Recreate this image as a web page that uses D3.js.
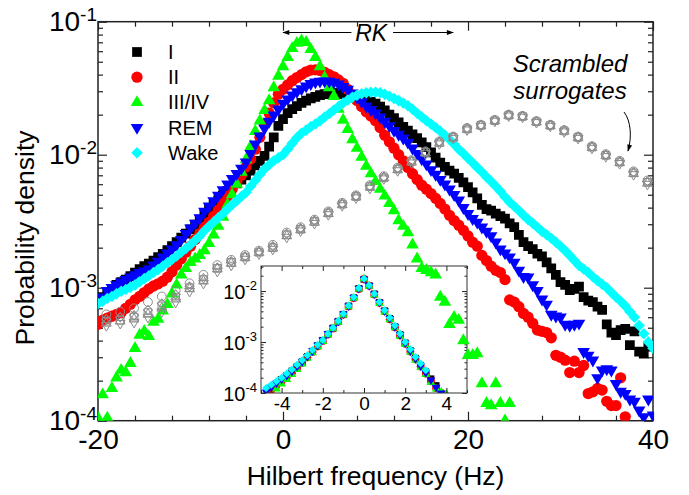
<!DOCTYPE html>
<html>
<head>
<meta charset="utf-8">
<script src="https://cdn.jsdelivr.net/npm/d3@7"></script>
<style>
  body { margin: 0; background: #fff; }
  svg text { font-family: "Liberation Sans", Arial, sans-serif; fill: #000; }
</style>
</head>
<body>
<script>

// ---------- data ----------
var binHz = [-20,-19.5,-19,-18.5,-18,-17.5,-17,-16.5,-16,-15.5,-15,-14.5,-14,-13.5,-13,-12.5,-12,-11.5,-11,-10.5,
  -10,-9.5,-9,-8.5,-8,-7.5,-7,-6.5,-6,-5.5,-5,-4.5,-4,-3.5,-3,-2.5,-2,-1.5,-1,-0.5,
  0,0.5,1,1.5,2,2.5,3,3.5,4,4.5,5,5.5,6,6.5,7,7.5,8,8.5,9,9.5,
  10,10.5,11,11.5,12,12.5,13,13.5,14,14.5,15,15.5,16,16.5,17,17.5,18,18.5,19,19.5,
  20,20.5,21,21.5,22,22.5,23,23.5,24,24.5,25,25.5,26,26.5,27,27.5,28,28.5,29,29.5,
  30,30.5,31,31.5,32,32.5,33,33.5,34,34.5,35,35.5,36,36.5,37,37.5,38,38.5,39,39.5,40];

var stageI = [8.0e-4,8.5e-4,9.0e-4,9.8e-4,1.05e-3,1.1e-3,1.15e-3,1.22e-3,1.3e-3,1.38e-3,
  1.45e-3,1.52e-3,1.6e-3,1.7e-3,1.8e-3,1.92e-3,2.05e-3,2.2e-3,2.38e-3,2.55e-3,
  2.75e-3,2.98e-3,3.25e-3,3.55e-3,3.85e-3,4.2e-3,4.55e-3,4.95e-3,5.35e-3,5.75e-3,
  6.1e-3,6.5e-3,7.0e-3,7.6e-3,8.3e-3,9.0e-3,9.8e-3,1.15e-2,1.35e-2,1.65e-2,
  1.85e-2,2.05e-2,2.2e-2,2.32e-2,2.45e-2,2.55e-2,2.65e-2,2.72e-2,2.8e-2,2.85e-2,
  2.88e-2,2.9e-2,2.9e-2,2.85e-2,2.75e-2,2.7e-2,2.65e-2,2.6e-2,2.55e-2,2.5e-2,
  2.42e-2,2.3e-2,2.15e-2,2.0e-2,1.88e-2,1.75e-2,1.62e-2,1.52e-2,1.42e-2,1.33e-2,
  1.24e-2,1.14e-2,1.04e-2,9.5e-3,8.7e-3,8.1e-3,7.6e-3,7.2e-3,6.7e-3,6.2e-3,
  5.7e-3,5.2e-3,4.7e-3,4.2e-3,3.9e-3,3.8e-3,3.6e-3,3.45e-3,3.3e-3,3.05e-3,
  2.85e-3,2.5e-3,2.2e-3,2.05e-3,1.95e-3,1.8e-3,1.72e-3,1.55e-3,1.4e-3,1.25e-3,
  1.1e-3,1.05e-3,9.6e-4,9.8e-4,1.02e-3,8.5e-4,8.0e-4,7.8e-4,7.2e-4,6.8e-4,
  5.3e-4,4.6e-4,4.4e-4,4.8e-4,4.9e-4,3.7e-4,4.7e-4,3.3e-4,3.2e-4,3.6e-4,3.7e-4];

var stageII = [5.3e-4,5.7e-4,5.9e-4,6.1e-4,6.3e-4,6.5e-4,7.0e-4,7.5e-4,8.1e-4,8.6e-4,
  9.2e-4,9.8e-4,1.03e-3,1.07e-3,1.12e-3,1.2e-3,1.32e-3,1.48e-3,1.65e-3,1.85e-3,
  2.05e-3,2.3e-3,2.55e-3,2.85e-3,3.1e-3,3.45e-3,3.85e-3,4.3e-3,4.9e-3,5.5e-3,
  6.2e-3,7.0e-3,8.1e-3,9.3e-3,1.1e-2,1.35e-2,1.7e-2,2.05e-2,2.45e-2,2.85e-2,
  3.1e-2,3.35e-2,3.6e-2,3.8e-2,4.0e-2,4.2e-2,4.33e-2,4.35e-2,4.3e-2,4.15e-2,
  4.0e-2,3.85e-2,3.65e-2,3.44e-2,3.1e-2,2.8e-2,2.55e-2,2.3e-2,2.1e-2,1.95e-2,
  1.8e-2,1.6e-2,1.4e-2,1.25e-2,1.12e-2,1.0e-2,9.0e-3,8.0e-3,7.2e-3,6.5e-3,
  5.9e-3,5.5e-3,5.1e-3,4.7e-3,4.3e-3,3.9e-3,3.5e-3,3.2e-3,2.95e-3,2.7e-3,
  2.45e-3,2.2e-3,2.05e-3,1.75e-3,1.6e-3,1.45e-3,1.35e-3,1.3e-3,1.15e-3,8.1e-4,
  7.8e-4,7.2e-4,6.4e-4,6.0e-4,5.4e-4,4.8e-4,4.7e-4,4.6e-4,4.2e-4,3.1e-4,
  3.0e-4,2.85e-4,2.3e-4,2.8e-4,2.3e-4,2.6e-4,1.6e-4,1.65e-4,1.75e-4,1.7e-4,
  1.4e-4,1.3e-4,1.3e-4,2.1e-4,1.07e-4,null,null,null,null,null,null];

var stageIIIIV = [1.05e-4,1.57e-4,1.05e-4,1.75e-4,2.1e-4,2.4e-4,2.3e-4,2.7e-4,3.5e-4,4.4e-4,
  4.7e-4,4.3e-4,5.5e-4,5.8e-4,6.7e-4,7.5e-4,9.0e-4,1.05e-3,1.25e-3,1.4e-3,
  1.55e-3,1.65e-3,1.75e-3,1.9e-3,2.15e-3,2.5e-3,2.9e-3,3.4e-3,4.2e-3,5.0e-3,
  6.0e-3,7.4e-3,9.2e-3,1.15e-2,1.5e-2,1.8e-2,2.15e-2,2.55e-2,3.2e-2,3.9e-2,
  4.6e-2,5.4e-2,6.3e-2,6.9e-2,7.2e-2,7.0e-2,6.2e-2,5.4e-2,4.6e-2,3.8e-2,
  3.2e-2,2.75e-2,2.2e-2,1.82e-2,1.55e-2,1.3e-2,1.12e-2,9.6e-3,8.2e-3,7.2e-3,
  6.3e-3,5.5e-3,4.9e-3,4.3e-3,3.8e-3,3.2e-3,2.9e-3,2.6e-3,2.1e-3,1.65e-3,
  1.4e-3,1.35e-3,1.3e-3,1.25e-3,8.5e-4,7.8e-4,5.3e-4,6.0e-4,5.7e-4,4.0e-4,
  3.1e-4,3.1e-4,3.2e-4,1.9e-4,1.35e-4,1.3e-4,1.9e-4,1.35e-4,1.0e-4,1.35e-4,
  null,null,null,null,null,null,null,null,null,null,
  null,null,null,null,null,null,null,null,null,null,
  null,null,null,null,null,null,null,null,null,null,null];

var stageREM = [7.8e-4,8.5e-4,9.5e-4,1.0e-3,1.05e-3,1.1e-3,1.15e-3,1.2e-3,1.25e-3,1.3e-3,
  1.33e-3,1.38e-3,1.48e-3,1.58e-3,1.7e-3,1.82e-3,1.95e-3,2.1e-3,2.3e-3,2.55e-3,
  2.8e-3,3.05e-3,3.35e-3,3.75e-3,4.1e-3,4.5e-3,4.95e-3,5.45e-3,6.0e-3,6.6e-3,
  7.2e-3,7.9e-3,8.8e-3,1.02e-2,1.2e-2,1.38e-2,1.58e-2,1.78e-2,1.98e-2,2.2e-2,
  2.43e-2,2.62e-2,2.8e-2,2.97e-2,3.12e-2,3.28e-2,3.42e-2,3.52e-2,3.56e-2,3.58e-2,
  3.56e-2,3.5e-2,3.4e-2,3.25e-2,3.1e-2,2.9e-2,2.7e-2,2.5e-2,2.32e-2,2.18e-2,
  2.05e-2,1.92e-2,1.78e-2,1.65e-2,1.52e-2,1.42e-2,1.33e-2,1.24e-2,1.12e-2,1.02e-2,
  9.3e-3,8.5e-3,7.7e-3,7.1e-3,6.5e-3,6.0e-3,5.5e-3,5.0e-3,4.55e-3,4.0e-3,
  3.6e-3,3.3e-3,3.1e-3,2.85e-3,2.65e-3,2.45e-3,2.2e-3,1.95e-3,1.82e-3,1.7e-3,
  1.55e-3,1.35e-3,1.21e-3,1.2e-3,1.05e-3,9.5e-4,8.2e-4,7.5e-4,6.3e-4,6.1e-4,
  6.0e-4,5.3e-4,5.2e-4,5.3e-4,5.4e-4,3.3e-4,3.1e-4,2.85e-4,2.1e-4,2.4e-4,
  2.45e-4,2.4e-4,1.9e-4,1.66e-4,1.6e-4,1.45e-4,1.4e-4,1.2e-4,1.07e-4,1.45e-4,1.1e-4];

var stageWake = [7.6e-4,7.9e-4,8.3e-4,8.6e-4,9.0e-4,9.4e-4,9.7e-4,1.01e-3,1.05e-3,1.11e-3,
  1.17e-3,1.23e-3,1.3e-3,1.37e-3,1.45e-3,1.54e-3,1.63e-3,1.73e-3,1.85e-3,1.97e-3,
  2.1e-3,2.27e-3,2.45e-3,2.68e-3,2.9e-3,3.12e-3,3.35e-3,3.6e-3,3.9e-3,4.2e-3,
  4.5e-3,4.85e-3,5.2e-3,5.8e-3,6.4e-3,7.1e-3,7.8e-3,8.4e-3,9.0e-3,9.5e-3,
  1.0e-2,1.1e-2,1.22e-2,1.34e-2,1.45e-2,1.53e-2,1.62e-2,1.7e-2,1.8e-2,1.92e-2,
  2.03e-2,2.17e-2,2.3e-2,2.45e-2,2.58e-2,2.7e-2,2.8e-2,2.87e-2,2.92e-2,2.95e-2,
  2.95e-2,2.92e-2,2.85e-2,2.75e-2,2.65e-2,2.55e-2,2.45e-2,2.33e-2,2.2e-2,2.05e-2,
  1.92e-2,1.8e-2,1.7e-2,1.6e-2,1.5e-2,1.4e-2,1.3e-2,1.2e-2,1.1e-2,1.02e-2,
  9.4e-3,8.7e-3,8.0e-3,7.4e-3,6.8e-3,6.3e-3,5.8e-3,5.3e-3,4.8e-3,4.4e-3,
  4.1e-3,3.8e-3,3.5e-3,3.25e-3,3.05e-3,2.85e-3,2.65e-3,2.5e-3,2.35e-3,2.2e-3,
  2.05e-3,1.9e-3,1.75e-3,1.6e-3,1.47e-3,1.38e-3,1.3e-3,1.21e-3,1.13e-3,1.06e-3,
  1.0e-3,9.2e-4,8.5e-4,7.9e-4,7.3e-4,6.6e-4,6.0e-4,5.2e-4,4.5e-4,3.9e-4,3.5e-4];

// scrambled surrogates (five open-symbol sets, coarser bins)
var surrHz = [-19.1,-17.6,-16.1,-14.6,-13.1,-11.6,-10.1,-8.6,-7.1,-5.6,-4.1,-2.6,-1.1,0.4,1.9,3.4,4.9,6.4,7.9,9.4,
  10.9,12.4,13.9,15.4,16.9,18.4,19.9,21.4,22.9,24.4,25.9,27.4,28.9,30.4,31.9,33.4,34.9,36.4,37.9,39.4];
var surrSquare = [5.6e-4,5.7e-4,6.0e-4,6.5e-4,7.3e-4,8.5e-4,1.0e-3,1.15e-3,1.4e-3,1.55e-3,1.7e-3,1.85e-3,2.0e-3,2.5e-3,2.75e-3,3.15e-3,3.65e-3,4.25e-3,4.85e-3,5.75e-3,
  6.7e-3,7.8e-3,8.9e-3,1.04e-2,1.23e-2,1.35e-2,1.56e-2,1.66e-2,1.8e-2,1.98e-2,1.94e-2,1.77e-2,1.66e-2,1.51e-2,1.35e-2,1.14e-2,9.9e-3,8.8e-3,7.3e-3,6.2e-3];
var surrCircle = [6.3e-4,6.6e-4,7.0e-4,7.8e-4,8.6e-4,9.5e-4,1.08e-3,1.25e-3,1.48e-3,1.62e-3,1.76e-3,1.9e-3,2.1e-3,2.6e-3,2.85e-3,3.25e-3,3.75e-3,4.35e-3,4.95e-3,5.9e-3,
  6.9e-3,8.0e-3,9.1e-3,1.06e-2,1.26e-2,1.37e-2,1.59e-2,1.68e-2,1.83e-2,2.0e-2,1.96e-2,1.79e-2,1.68e-2,1.53e-2,1.37e-2,1.16e-2,1.01e-2,9.0e-3,7.5e-3,6.4e-3];
var surrUp = [5.4e-4,5.6e-4,5.8e-4,6.3e-4,7.0e-4,8.2e-4,9.8e-4,1.12e-3,1.38e-3,1.52e-3,1.68e-3,1.83e-3,1.98e-3,2.45e-3,2.72e-3,3.1e-3,3.6e-3,4.2e-3,4.8e-3,5.7e-3,
  6.7e-3,7.7e-3,8.8e-3,1.03e-2,1.22e-2,1.34e-2,1.55e-2,1.65e-2,1.8e-2,1.97e-2,1.93e-2,1.76e-2,1.65e-2,1.5e-2,1.34e-2,1.13e-2,9.8e-3,8.7e-3,7.2e-3,6.1e-3];
var surrDown = [5.2e-4,5.4e-4,5.5e-4,6.0e-4,6.6e-4,7.8e-4,9.4e-4,1.08e-3,1.33e-3,1.48e-3,1.64e-3,1.8e-3,1.95e-3,2.4e-3,2.68e-3,3.05e-3,3.55e-3,4.15e-3,4.75e-3,5.6e-3,
  6.6e-3,7.6e-3,8.7e-3,1.02e-2,1.21e-2,1.33e-2,1.54e-2,1.64e-2,1.79e-2,1.96e-2,1.92e-2,1.75e-2,1.64e-2,1.49e-2,1.33e-2,1.12e-2,9.7e-3,8.6e-3,7.1e-3,6.0e-3];
var surrDiamond = [5.8e-4,6.0e-4,6.2e-4,6.8e-4,7.6e-4,8.9e-4,1.02e-3,1.18e-3,1.42e-3,1.58e-3,1.72e-3,1.87e-3,2.05e-3,2.55e-3,2.8e-3,3.2e-3,3.7e-3,4.3e-3,4.9e-3,5.8e-3,
  6.8e-3,7.9e-3,9.0e-3,1.05e-2,1.25e-2,1.36e-2,1.58e-2,1.67e-2,1.82e-2,2.0e-2,1.95e-2,1.78e-2,1.67e-2,1.52e-2,1.36e-2,1.15e-2,1.0e-2,8.9e-3,7.4e-3,6.3e-3];

// inset: normalised frequency
var insetHz = [-5,-4.75,-4.5,-4.25,-4,-3.75,-3.5,-3.25,-3,-2.75,-2.5,-2.25,-2,-1.75,-1.5,-1.25,-1,-0.75,-0.5,-0.25,
  0,0.25,0.5,0.75,1,1.25,1.5,1.75,2,2.25,2.5,2.75,3,3.25,3.5,3.75,4];
var insetI = [null,null,1.3e-4,1.55e-4,1.85e-4,2.2e-4,2.7e-4,3.3e-4,4.1e-4,5.2e-4,6.6e-4,8.5e-4,1.08e-3,1.42e-3,1.88e-3,2.55e-3,3.5e-3,5.1e-3,7.4e-3,1.12e-2,
  1.7e-2,1.28e-2,8.8e-3,6.0e-3,4.1e-3,2.9e-3,2.0e-3,1.4e-3,9.6e-4,6.8e-4,4.8e-4,3.5e-4,2.6e-4,1.9e-4,1.4e-4,null,null];
var insetII = [null,null,1.15e-4,1.4e-4,1.7e-4,2.05e-4,2.5e-4,3.1e-4,3.9e-4,5.0e-4,6.4e-4,8.2e-4,1.05e-3,1.4e-3,1.85e-3,2.5e-3,3.45e-3,5.0e-3,7.3e-3,1.1e-2,
  1.72e-2,1.27e-2,8.6e-3,5.9e-3,4.0e-3,2.8e-3,1.95e-3,1.35e-3,9.3e-4,6.5e-4,4.6e-4,3.3e-4,2.4e-4,1.7e-4,1.25e-4,1.0e-4,null];
var insetIIIIV = [null,null,null,1.2e-4,1.5e-4,1.85e-4,2.3e-4,2.9e-4,3.7e-4,4.8e-4,6.2e-4,8.0e-4,1.03e-3,1.38e-3,1.82e-3,2.45e-3,3.4e-3,4.9e-3,7.2e-3,1.1e-2,
  1.75e-2,1.25e-2,8.4e-3,5.7e-3,3.9e-3,2.75e-3,1.9e-3,1.3e-3,9.0e-4,6.3e-4,4.4e-4,3.2e-4,2.3e-4,1.6e-4,1.2e-4,1.05e-4,9.5e-5];
var insetREM = [null,1.05e-4,1.3e-4,1.55e-4,1.85e-4,2.2e-4,2.65e-4,3.3e-4,4.1e-4,5.2e-4,6.7e-4,8.6e-4,1.1e-3,1.45e-3,1.9e-3,2.55e-3,3.55e-3,5.1e-3,7.5e-3,1.13e-2,
  1.72e-2,1.28e-2,8.7e-3,6.0e-3,4.1e-3,2.9e-3,2.0e-3,1.38e-3,9.5e-4,6.7e-4,4.7e-4,3.4e-4,2.5e-4,1.8e-4,1.3e-4,1.0e-4,null];
var insetWake = [null,1.25e-4,1.45e-4,1.7e-4,2.0e-4,2.4e-4,2.9e-4,3.6e-4,4.4e-4,5.5e-4,7.0e-4,8.8e-4,1.1e-3,1.45e-3,1.9e-3,2.6e-3,3.6e-3,5.2e-3,7.6e-3,1.15e-2,
  1.74e-2,1.3e-2,8.9e-3,6.1e-3,4.2e-3,3.0e-3,2.1e-3,1.45e-3,1.0e-3,7.2e-4,5.1e-4,3.8e-4,2.8e-4,null,null,null,null];

var legendLabels = ["I", "II", "III/IV", "REM", "Wake"];
var xTicksMain = [-20, 0, 20, 40];
var yTicksMain = [1e-4, 1e-3, 1e-2, 1e-1];
var yTickExp = ["-4", "-3", "-2", "-1"];
var insetXTicks = [-4, -2, 0, 2, 4];
var insetYTicks = [1e-4, 1e-3, 1e-2];
var insetYExp = ["-4", "-3", "-2"];

// ---------- setup ----------
var series = [
  {label: legendLabels[0], main: stageI,     inset: insetI,     color: "#000000", shape: "square"},
  {label: legendLabels[1], main: stageII,    inset: insetII,    color: "#ff0000", shape: "circle"},
  {label: legendLabels[2], main: stageIIIIV, inset: insetIIIIV, color: "#00ff00", shape: "up"},
  {label: legendLabels[3], main: stageREM,   inset: insetREM,   color: "#0000ff", shape: "down"},
  {label: legendLabels[4], main: stageWake,  inset: insetWake,  color: "#00ffff", shape: "diamond"}
];
var surrogates = [
  {vals: surrSquare, shape: "square"},
  {vals: surrCircle, shape: "circle"},
  {vals: surrUp, shape: "up"},
  {vals: surrDown, shape: "down"},
  {vals: surrDiamond, shape: "diamond"}
];

var shapes = {
  square:  {type: d3.symbolSquare,   rot: 0,   k: 1},
  circle:  {type: d3.symbolCircle,   rot: 0,   k: 1.05},
  up:      {type: d3.symbolTriangle, rot: 0,   k: 0.72},
  down:    {type: d3.symbolTriangle, rot: 180, k: 0.72},
  diamond: {type: d3.symbolSquare,   rot: 45,  k: 0.7}
};
function sym(shape, area) {
  return d3.symbol().type(shapes[shape].type).size(area * shapes[shape].k)();
}
function pts(xs, vs) {
  return xs.map(function(d, i) { return {x: d, v: vs[i]}; })
           .filter(function(d) { return d.v != null; });
}

var width = 689, height = 495;
var svg = d3.select("body").append("svg")
    .attr("width", width)
    .attr("height", height);

var x = d3.scaleLinear().domain([-20, 40]).range([98, 653]);
var y = d3.scaleLog().domain([1e-4, 1e-1]).range([420.7, 21.7]);
var xi = d3.scaleLinear().domain([-5, 5]).range([261, 467]);
var yi = d3.scaleLog().domain([1e-4, 0.031]).range([393, 266]);

var defs = svg.append("defs");
defs.append("clipPath").attr("id", "clipMain").append("rect")
    .attr("x", x.range()[0]).attr("y", y.range()[1])
    .attr("width", x.range()[1] - x.range()[0])
    .attr("height", y.range()[0] - y.range()[1]);
defs.append("clipPath").attr("id", "clipInset").append("rect")
    .attr("x", xi.range()[0]).attr("y", yi.range()[1])
    .attr("width", xi.range()[1] - xi.range()[0])
    .attr("height", yi.range()[0] - yi.range()[1]);
defs.append("marker").attr("id", "arrow")
    .attr("viewBox", "0 0 10 10").attr("refX", 9).attr("refY", 5)
    .attr("markerWidth", 9).attr("markerHeight", 7)
    .attr("markerUnits", "userSpaceOnUse")
    .attr("orient", "auto-start-reverse")
  .append("path").attr("d", "M0,1.5 L10,5 L0,8.5 z").attr("fill", "#000");

// ---------- main axes ----------
var yMinor = y.ticks().filter(function(t) { return yTicksMain.indexOf(t) < 0; });
var xMinor = d3.range(-20, 40.1, 4).filter(function(t) { return xTicksMain.indexOf(t) < 0; });

function ticks(g, axis) {
  g.call(axis);
  g.select(".domain").remove();
  g.selectAll("line").attr("stroke", "#222").attr("stroke-width", 1.2);
  return g;
}

var xb = ticks(svg.append("g").attr("transform", "translate(0," + y.range()[0] + ")"),
    d3.axisBottom(x).tickValues(xTicksMain).tickSize(-9).tickPadding(8)
      .tickFormat(function(d) { return String(d); }));
xb.attr("font-size", 28).attr("font-family", "Liberation Sans, Arial, sans-serif");
xb.selectAll("text").attr("fill", "#000");
ticks(svg.append("g").attr("transform", "translate(0," + y.range()[0] + ")"),
    d3.axisBottom(x).tickValues(xMinor).tickSize(-5).tickFormat(""));
ticks(svg.append("g").attr("transform", "translate(0," + y.range()[1] + ")"),
    d3.axisTop(x).tickValues(xTicksMain).tickSize(-9).tickFormat(""));
ticks(svg.append("g").attr("transform", "translate(0," + y.range()[1] + ")"),
    d3.axisTop(x).tickValues(xMinor).tickSize(-5).tickFormat(""));
ticks(svg.append("g").attr("transform", "translate(" + x.range()[0] + ",0)"),
    d3.axisLeft(y).tickValues(yTicksMain).tickSize(-9).tickFormat(""));
ticks(svg.append("g").attr("transform", "translate(" + x.range()[0] + ",0)"),
    d3.axisLeft(y).tickValues(yMinor).tickSize(-5).tickFormat(""));
ticks(svg.append("g").attr("transform", "translate(" + x.range()[1] + ",0)"),
    d3.axisRight(y).tickValues(yTicksMain).tickSize(-9).tickFormat(""));
ticks(svg.append("g").attr("transform", "translate(" + x.range()[1] + ",0)"),
    d3.axisRight(y).tickValues(yMinor).tickSize(-5).tickFormat(""));

svg.append("g").selectAll("text")
    .data(yTicksMain)
  .enter().append("text")
    .attr("x", x.range()[0] - 1)
    .attr("y", function(d) { return y(d) + 9; })
    .attr("text-anchor", "end")
    .each(function(d, i) {
      var t = d3.select(this);
      t.append("tspan").attr("font-size", 28).text("10");
      t.append("tspan").attr("font-size", 19).attr("dy", -10).text(yTickExp[i]);
    });

svg.append("rect")
    .attr("x", x.range()[0]).attr("y", y.range()[1])
    .attr("width", x.range()[1] - x.range()[0])
    .attr("height", y.range()[0] - y.range()[1])
    .attr("fill", "none").attr("stroke", "#222").attr("stroke-width", 1.5);

svg.append("text")
    .attr("x", (x.range()[0] + x.range()[1]) / 2)
    .attr("y", 485)
    .attr("text-anchor", "middle")
    .attr("font-size", 26.5)
    .text("Hilbert frequency (Hz)");

svg.append("text")
    .attr("transform", "translate(34,238) rotate(-90)")
    .attr("text-anchor", "middle")
    .attr("font-size", 26.5)
    .text("Probability density");

// ---------- inset ----------
var inset = svg.append("g");
inset.append("rect")
    .attr("x", xi.range()[0]).attr("y", yi.range()[1])
    .attr("width", xi.range()[1] - xi.range()[0])
    .attr("height", yi.range()[0] - yi.range()[1])
    .attr("fill", "#fff");

var insetPts = inset.append("g").attr("clip-path", "url(#clipInset)");
series.forEach(function(s) {
  insetPts.append("g").selectAll("path")
      .data(pts(insetHz, s.inset))
    .enter().append("path")
      .attr("transform", function(d) {
        return "translate(" + xi(d.x) + "," + yi(d.v) + ") rotate(" + shapes[s.shape].rot + ")";
      })
      .attr("d", sym(s.shape, 46))
      .attr("fill", s.color);
});

var xiMinor = [-5, -3, -1, 1, 3, 5];
var yiMinor = yi.ticks().filter(function(t) { return insetYTicks.indexOf(t) < 0; });
var ib = ticks(inset.append("g").attr("transform", "translate(0," + yi.range()[0] + ")"),
    d3.axisBottom(xi).tickValues(insetXTicks).tickSize(-5).tickPadding(4)
      .tickFormat(function(d) { return String(d); }));
ib.attr("font-size", 19).attr("font-family", "Liberation Sans, Arial, sans-serif");
ib.selectAll("text").attr("fill", "#000");
ticks(inset.append("g").attr("transform", "translate(0," + yi.range()[0] + ")"),
    d3.axisBottom(xi).tickValues(xiMinor).tickSize(-3).tickFormat(""));
ticks(inset.append("g").attr("transform", "translate(0," + yi.range()[1] + ")"),
    d3.axisTop(xi).tickValues(insetXTicks).tickSize(-5).tickFormat(""));
ticks(inset.append("g").attr("transform", "translate(0," + yi.range()[1] + ")"),
    d3.axisTop(xi).tickValues(xiMinor).tickSize(-3).tickFormat(""));
ticks(inset.append("g").attr("transform", "translate(" + xi.range()[0] + ",0)"),
    d3.axisLeft(yi).tickValues(insetYTicks).tickSize(-5).tickFormat(""));
ticks(inset.append("g").attr("transform", "translate(" + xi.range()[0] + ",0)"),
    d3.axisLeft(yi).tickValues(yiMinor).tickSize(-2.5).tickFormat(""));
ticks(inset.append("g").attr("transform", "translate(" + xi.range()[1] + ",0)"),
    d3.axisRight(yi).tickValues(insetYTicks).tickSize(-5).tickFormat(""));
ticks(inset.append("g").attr("transform", "translate(" + xi.range()[1] + ",0)"),
    d3.axisRight(yi).tickValues(yiMinor).tickSize(-2.5).tickFormat(""));
inset.selectAll("line").attr("stroke-width", 1);

inset.append("g").selectAll("text")
    .data(insetYTicks)
  .enter().append("text")
    .attr("x", xi.range()[0] - 4)
    .attr("y", function(d) { return yi(d) + 8; })
    .attr("text-anchor", "end")
    .each(function(d, i) {
      var t = d3.select(this);
      t.append("tspan").attr("font-size", 20).text("10");
      t.append("tspan").attr("font-size", 13).attr("dy", -9).text(insetYExp[i]);
    });

inset.append("rect")
    .attr("x", xi.range()[0]).attr("y", yi.range()[1])
    .attr("width", xi.range()[1] - xi.range()[0])
    .attr("height", yi.range()[0] - yi.range()[1])
    .attr("fill", "none").attr("stroke", "#333").attr("stroke-width", 1);

// ---------- main data ----------
var plot = svg.append("g").attr("clip-path", "url(#clipMain)");
series.forEach(function(s) {
  plot.append("g").selectAll("path")
      .data(pts(binHz, s.main))
    .enter().append("path")
      .attr("transform", function(d) {
        return "translate(" + x(d.x) + "," + y(d.v) + ") rotate(" + shapes[s.shape].rot + ")";
      })
      .attr("d", sym(s.shape, 95))
      .attr("fill", s.color);
});
surrogates.forEach(function(s) {
  plot.append("g").selectAll("path")
      .data(pts(surrHz, s.vals))
    .enter().append("path")
      .attr("transform", function(d) {
        return "translate(" + x(d.x) + "," + y(d.v) + ") rotate(" + shapes[s.shape].rot + ")";
      })
      .attr("d", sym(s.shape, 58))
      .attr("fill", "none")
      .attr("stroke", "#8c8c8c")
      .attr("stroke-width", 1);
});

// ---------- legend ----------
var legend = svg.append("g").attr("transform", "translate(137,52)");
series.forEach(function(s, i) {
  var row = legend.append("g").attr("transform", "translate(0," + i * 25.2 + ")");
  row.append("path")
      .attr("transform", "rotate(" + shapes[s.shape].rot + ")")
      .attr("d", sym(s.shape, 95))
      .attr("fill", s.color);
  row.append("text")
      .attr("x", 31).attr("y", 7)
      .attr("font-size", 20)
      .text(s.label);
});

// ---------- annotations ----------
svg.append("line")
    .attr("x1", x(0)).attr("x2", x(7.4))
    .attr("y1", 32.5).attr("y2", 32.5)
    .attr("stroke", "#000").attr("stroke-width", 1)
    .attr("marker-start", "url(#arrow)");
svg.append("line")
    .attr("x1", x(11.9)).attr("x2", x(18.4))
    .attr("y1", 32.5).attr("y2", 32.5)
    .attr("stroke", "#000").attr("stroke-width", 1)
    .attr("marker-end", "url(#arrow)");
svg.append("text")
    .attr("x", x(7.8)).attr("y", 40.5)
    .attr("font-size", 23).attr("font-style", "italic")
    .text("RK");

svg.append("text")
    .attr("x", 570).attr("y", 71.5)
    .attr("text-anchor", "middle")
    .attr("font-size", 24).attr("font-style", "italic")
    .text("Scrambled");
svg.append("text")
    .attr("x", 570).attr("y", 99)
    .attr("text-anchor", "middle")
    .attr("font-size", 24).attr("font-style", "italic")
    .text("surrogates");
svg.append("path")
    .attr("d", "M624,112 C631,121 632,137 628,151")
    .attr("fill", "none")
    .attr("stroke", "#000").attr("stroke-width", 1)
    .attr("marker-end", "url(#arrow)");

</script>
</body>
</html>
